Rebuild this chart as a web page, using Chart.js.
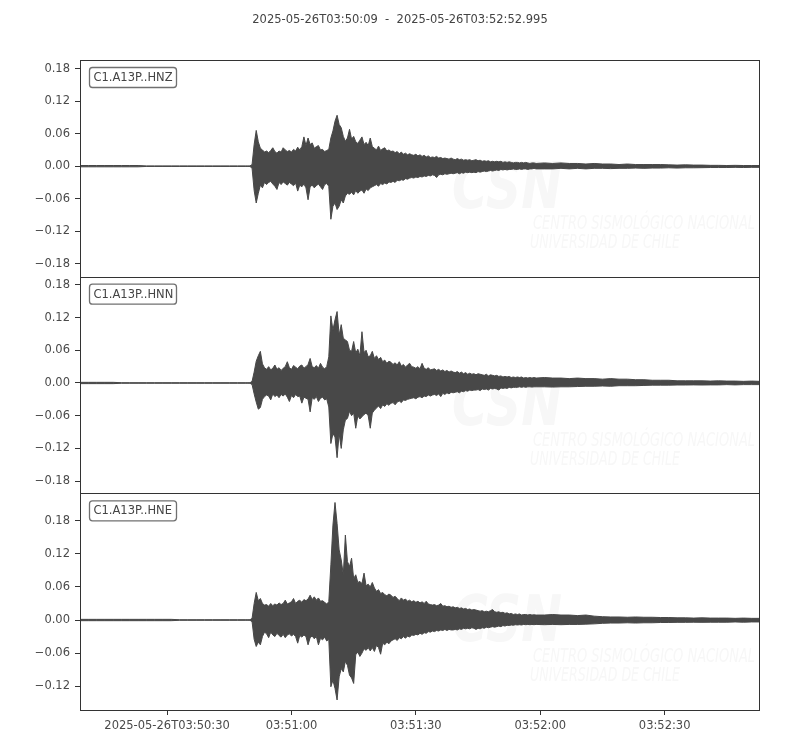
<!DOCTYPE html>
<html><head><meta charset="utf-8">
<script src="https://cdn.jsdelivr.net/npm/chart.js@4.4.1/dist/chart.umd.min.js"></script>
<style>html,body{margin:0;padding:0;background:#fff}canvas{display:block}</style>
</head><body>
<canvas id="c" width="800" height="750"></canvas>
<script>
// ---------- text / ticks ----------
const titleText = '2025-05-26T03:50:09  -  2025-05-26T03:52:52.995';
const channels = ['C1.A13P..HNZ', 'C1.A13P..HNN', 'C1.A13P..HNE'];
const xTickSeconds = [21, 51, 81, 111, 141];          // seconds after 03:50:09
const xTickLabels = ['2025-05-26T03:50:30', '03:51:00', '03:51:30', '03:52:00', '03:52:30'];
const yTicksZN = [-0.18, -0.12, -0.06, 0, 0.06, 0.12, 0.18];
const yTicksE = [-0.12, -0.06, 0, 0.06, 0.12, 0.18];
const yLimits = [[-0.204, 0.196], [-0.2024, 0.195], [-0.1631, 0.2296]];
const timeSpan = 163.995;
// sample grid: [start, end, step] seconds
const sampleSegments = [[0, 40, 2], [40.5, 110, 0.5], [112, 164, 2]];

// ---------- envelope values (max / min per sample) ----------
const hnzUpper = [
  0.0012,0.0012,0.0012,0.0012,0.0012,0.0012,0.0012,0.0012,0.0005,0.0005,0.0005,0.0005,0.0005,0.0005,0.0005,0.0005,0.0005,0.0005,0.0005,0.0005,0.0005,
  0.0005,0.0005,0.003,0.04,0.066,0.045,0.033,0.03,0.026,0.028,
  0.025,0.029,0.034,0.027,0.024,0.028,0.026,0.034,0.03,0.027,
  0.029,0.026,0.031,0.028,0.035,0.03,0.036,0.054,0.038,0.052,
  0.04,0.043,0.033,0.036,0.038,0.03,0.031,0.027,0.029,0.031,
  0.052,0.065,0.083,0.094,0.077,0.071,0.055,0.046,0.052,0.068,
  0.05,0.055,0.045,0.042,0.048,0.054,0.04,0.044,0.038,0.052,
  0.036,0.033,0.03,0.037,0.029,0.032,0.034,0.028,0.03,0.027,
  0.028,0.025,0.027,0.023,0.026,0.022,0.024,0.021,0.023,0.021,
  0.02,0.022,0.019,0.021,0.018,0.02,0.017,0.019,0.016,0.017,
  0.016,0.018,0.015,0.016,0.014,0.015,0.014,0.013,0.015,0.013,
  0.012,0.014,0.012,0.013,0.011,0.012,0.011,0.012,0.01,0.011,
  0.012,0.01,0.011,0.009,0.01,0.009,0.01,0.008,0.009,0.008,
  0.009,0.008,0.009,0.007,0.008,0.007,0.008,0.007,0.006,0.007,
  0.007,0.006,0.007,0.006,0.007,0.006,0.005,0.006,0.006,0.005,
  0.006,0.005,0.006,0.005,0.005,0.004,0.005,0.004,0.004,0.003,0.004,0.003,0.003,0.003,0.003,0.0025,0.002,0.0025,0.002,0.002,0.0015,0.0015,0.0012,0.0015,0.0012,0.0012,0.0012
];
const hnzLower = [
  -0.0012,-0.0012,-0.0012,-0.0012,-0.0012,-0.0012,-0.0012,-0.0012,-0.0005,-0.0005,-0.0005,-0.0005,-0.0005,-0.0005,-0.0005,-0.0005,-0.0005,-0.0005,-0.0005,-0.0005,-0.0005,
  -0.0005,-0.0005,-0.004,-0.045,-0.068,-0.05,-0.035,-0.04,-0.03,-0.034,
  -0.03,-0.028,-0.033,-0.037,-0.043,-0.03,-0.034,-0.029,-0.032,-0.035,
  -0.03,-0.033,-0.036,-0.031,-0.046,-0.035,-0.038,-0.033,-0.04,-0.062,
  -0.038,-0.035,-0.04,-0.036,-0.033,-0.038,-0.043,-0.034,-0.032,-0.037,
  -0.098,-0.074,-0.068,-0.08,-0.074,-0.062,-0.068,-0.055,-0.05,-0.052,
  -0.048,-0.053,-0.045,-0.05,-0.046,-0.044,-0.05,-0.042,-0.045,-0.04,
  -0.038,-0.036,-0.034,-0.037,-0.032,-0.034,-0.031,-0.033,-0.029,-0.03,
  -0.028,-0.03,-0.026,-0.027,-0.025,-0.026,-0.023,-0.024,-0.022,-0.021,
  -0.022,-0.02,-0.021,-0.019,-0.02,-0.018,-0.019,-0.017,-0.018,-0.016,
  -0.017,-0.021,-0.016,-0.015,-0.016,-0.014,-0.015,-0.014,-0.013,-0.014,
  -0.013,-0.012,-0.014,-0.012,-0.013,-0.011,-0.012,-0.011,-0.012,-0.011,
  -0.012,-0.01,-0.011,-0.01,-0.009,-0.01,-0.009,-0.008,-0.009,-0.008,
  -0.007,-0.008,-0.006,-0.007,-0.006,-0.007,-0.006,-0.006,-0.005,-0.006,
  -0.006,-0.005,-0.006,-0.005,-0.005,-0.006,-0.005,-0.005,-0.004,-0.005,
  -0.005,-0.005,-0.004,-0.005,-0.004,-0.005,-0.004,-0.004,-0.0045,-0.004,-0.004,-0.0035,-0.004,-0.0035,-0.0035,-0.003,-0.0035,-0.003,-0.003,-0.0028,-0.0025,-0.0025,-0.0025,-0.0022,-0.0025,-0.0022,-0.0022
];
const hnnUpper = [
  0.0012,0.0012,0.0012,0.0012,0.0012,0.0005,0.0005,0.0005,0.0005,0.0005,0.0005,0.0005,0.0005,0.0005,0.0005,0.0005,0.0005,0.0005,0.0005,0.0005,0.0005,
  0.0005,0.0005,0.003,0.02,0.04,0.05,0.058,0.035,0.028,0.025,
  0.03,0.024,0.027,0.033,0.025,0.028,0.023,0.027,0.03,0.039,
  0.028,0.025,0.032,0.029,0.026,0.031,0.033,0.027,0.03,0.034,
  0.045,0.03,0.028,0.032,0.027,0.036,0.029,0.026,0.03,0.048,
  0.123,0.097,0.116,0.131,0.088,0.107,0.082,0.079,0.076,0.06,
  0.058,0.076,0.055,0.062,0.05,0.094,0.056,0.06,0.048,0.05,
  0.058,0.045,0.05,0.043,0.047,0.039,0.042,0.036,0.04,0.038,
  0.034,0.037,0.033,0.039,0.031,0.034,0.029,0.033,0.036,0.03,
  0.029,0.027,0.03,0.026,0.036,0.027,0.025,0.028,0.024,0.025,
  0.026,0.023,0.025,0.022,0.024,0.021,0.023,0.02,0.022,0.02,
  0.019,0.021,0.018,0.02,0.017,0.019,0.016,0.018,0.016,0.017,
  0.015,0.017,0.016,0.015,0.014,0.016,0.013,0.015,0.014,0.013,
  0.014,0.012,0.013,0.011,0.012,0.011,0.012,0.01,0.011,0.01,
  0.011,0.01,0.011,0.009,0.01,0.009,0.01,0.009,0.01,0.009,
  0.01,0.009,0.009,0.008,0.009,0.008,0.008,0.007,0.008,0.007,0.007,0.006,0.006,0.005,0.005,0.005,0.004,0.004,0.004,0.004,0.0035,0.004,0.0035,0.0035,0.003,0.0035,0.003
];
const hnnLower = [
  -0.0012,-0.0012,-0.0012,-0.0012,-0.0012,-0.0005,-0.0005,-0.0005,-0.0005,-0.0005,-0.0005,-0.0005,-0.0005,-0.0005,-0.0005,-0.0005,-0.0005,-0.0005,-0.0005,-0.0005,-0.0005,
  -0.0005,-0.0005,-0.003,-0.02,-0.035,-0.048,-0.045,-0.03,-0.025,-0.022,
  -0.024,-0.031,-0.02,-0.025,-0.022,-0.027,-0.021,-0.024,-0.02,-0.026,
  -0.034,-0.023,-0.027,-0.021,-0.025,-0.024,-0.037,-0.026,-0.028,-0.03,
  -0.053,-0.027,-0.03,-0.025,-0.034,-0.028,-0.026,-0.031,-0.029,-0.044,
  -0.111,-0.093,-0.099,-0.137,-0.093,-0.12,-0.086,-0.068,-0.065,-0.052,
  -0.06,-0.055,-0.083,-0.06,-0.066,-0.062,-0.058,-0.055,-0.06,-0.083,
  -0.055,-0.05,-0.046,-0.042,-0.047,-0.04,-0.043,-0.038,-0.041,-0.037,
  -0.036,-0.04,-0.035,-0.033,-0.036,-0.031,-0.032,-0.03,-0.029,-0.028,
  -0.027,-0.029,-0.026,-0.025,-0.027,-0.024,-0.025,-0.022,-0.024,-0.022,
  -0.021,-0.023,-0.02,-0.025,-0.019,-0.021,-0.018,-0.02,-0.017,-0.018,
  -0.017,-0.016,-0.018,-0.015,-0.016,-0.014,-0.015,-0.013,-0.014,-0.013,
  -0.013,-0.012,-0.014,-0.011,-0.012,-0.011,-0.013,-0.01,-0.011,-0.01,
  -0.011,-0.013,-0.009,-0.01,-0.009,-0.01,-0.008,-0.009,-0.008,-0.008,
  -0.008,-0.007,-0.008,-0.007,-0.008,-0.007,-0.007,-0.0075,-0.007,-0.007,
  -0.007,-0.0075,-0.007,-0.007,-0.0065,-0.006,-0.006,-0.0055,-0.006,-0.005,-0.005,-0.005,-0.0045,-0.004,-0.004,-0.004,-0.0037,-0.0037,-0.0035,-0.0037,-0.0035,-0.0035,-0.003,-0.0035,-0.003,-0.003,-0.003
];
const hneUpper = [
  0.0012,0.0012,0.0012,0.0012,0.0012,0.0012,0.0012,0.0012,0.0012,0.0012,0.0012,0.0012,0.0005,0.0005,0.0005,0.0005,0.0005,0.0005,0.0005,0.0005,0.0005,
  0.0005,0.0005,0.003,0.03,0.05,0.035,0.039,0.03,0.027,0.028,
  0.025,0.03,0.026,0.029,0.027,0.031,0.028,0.03,0.036,0.029,
  0.031,0.033,0.039,0.03,0.034,0.036,0.032,0.037,0.035,0.038,
  0.045,0.037,0.042,0.036,0.04,0.034,0.035,0.032,0.029,0.033,
  0.1,0.172,0.213,0.175,0.127,0.109,0.082,0.154,0.106,0.097,
  0.112,0.075,0.082,0.068,0.07,0.066,0.085,0.062,0.065,0.06,
  0.068,0.058,0.052,0.055,0.048,0.05,0.046,0.044,0.047,0.045,
  0.041,0.043,0.039,0.035,0.04,0.036,0.038,0.034,0.036,0.033,
  0.035,0.032,0.034,0.031,0.033,0.03,0.034,0.029,0.028,0.027,
  0.028,0.026,0.027,0.03,0.025,0.026,0.024,0.025,0.023,0.024,
  0.022,0.023,0.021,0.022,0.02,0.021,0.019,0.02,0.018,0.019,
  0.018,0.017,0.016,0.017,0.015,0.016,0.015,0.017,0.019,0.015,
  0.014,0.015,0.013,0.014,0.012,0.013,0.011,0.012,0.01,0.011,
  0.01,0.011,0.009,0.01,0.01,0.009,0.01,0.009,0.0095,0.009,
  0.009,0.01,0.009,0.009,0.008,0.009,0.007,0.006,0.0055,0.0055,0.005,0.0055,0.005,0.005,0.0045,0.0045,0.004,0.004,0.0035,0.004,0.0035,0.0035,0.0035,0.003,0.0035,0.003,0.003
];
const hneLower = [
  -0.0012,-0.0012,-0.0012,-0.0012,-0.0012,-0.0012,-0.0012,-0.0012,-0.0012,-0.0012,-0.0012,-0.0012,-0.0005,-0.0005,-0.0005,-0.0005,-0.0005,-0.0005,-0.0005,-0.0005,-0.0005,
  -0.0005,-0.0005,-0.003,-0.035,-0.048,-0.04,-0.045,-0.03,-0.022,-0.025,
  -0.032,-0.022,-0.027,-0.03,-0.024,-0.028,-0.031,-0.026,-0.032,-0.027,
  -0.025,-0.029,-0.026,-0.03,-0.042,-0.028,-0.031,-0.027,-0.03,-0.045,
  -0.032,-0.029,-0.034,-0.03,-0.045,-0.033,-0.036,-0.031,-0.038,-0.035,
  -0.121,-0.109,-0.124,-0.145,-0.103,-0.088,-0.094,-0.075,-0.082,-0.1,
  -0.105,-0.115,-0.063,-0.058,-0.066,-0.06,-0.052,-0.055,-0.05,-0.056,
  -0.05,-0.057,-0.046,-0.05,-0.062,-0.042,-0.045,-0.04,-0.043,-0.038,
  -0.036,-0.034,-0.037,-0.032,-0.034,-0.03,-0.033,-0.029,-0.031,-0.027,
  -0.028,-0.026,-0.027,-0.024,-0.026,-0.023,-0.024,-0.021,-0.022,-0.02,
  -0.021,-0.019,-0.02,-0.018,-0.019,-0.017,-0.019,-0.017,-0.018,-0.018,
  -0.017,-0.018,-0.016,-0.017,-0.015,-0.016,-0.015,-0.016,-0.014,-0.015,
  -0.017,-0.015,-0.016,-0.014,-0.015,-0.013,-0.014,-0.013,-0.012,-0.013,
  -0.012,-0.011,-0.012,-0.01,-0.011,-0.0095,-0.01,-0.009,-0.0095,-0.0085,
  -0.009,-0.0085,-0.009,-0.008,-0.0085,-0.008,-0.0085,-0.008,-0.0085,-0.008,
  -0.0085,-0.008,-0.0085,-0.008,-0.008,-0.0075,-0.007,-0.006,-0.0055,-0.0055,-0.005,-0.0055,-0.005,-0.005,-0.0045,-0.0045,-0.0042,-0.0042,-0.004,-0.0042,-0.004,-0.004,-0.004,-0.0035,-0.004,-0.0035,-0.0035
];

// ---------- build chart ----------
const sampleTimes = [];
sampleSegments.forEach(([a, b, s]) => { for (let t = a; t <= b + 1e-9; t += s) sampleTimes.push(+t.toFixed(3)); });

const traceColor = '#484848';
const fontFam = '"DejaVu Sans", "Liberation Sans", sans-serif';
const fontSize = 11.5;
const yIds = ['yZ', 'yN', 'yE'];
const envelopes = [[hnzUpper, hnzLower], [hnnUpper, hnnLower], [hneUpper, hneLower]];
const lengthProblems = [];
const datasets = [];
envelopes.forEach(([up, lo], i) => {
  if (up.length !== sampleTimes.length) lengthProblems.push(channels[i] + ' up ' + up.length);
  if (lo.length !== sampleTimes.length) lengthProblems.push(channels[i] + ' lo ' + lo.length);
  datasets.push({ data: up.map((v, k) => ({ x: sampleTimes[k], y: v })), yAxisID: yIds[i],
    borderColor: traceColor, backgroundColor: traceColor, borderWidth: 1, fill: '+1', pointRadius: 0 });
  datasets.push({ data: lo.map((v, k) => ({ x: sampleTimes[k], y: v })), yAxisID: yIds[i],
    borderColor: traceColor, backgroundColor: traceColor, borderWidth: 1, fill: false, pointRadius: 0 });
});

function yAxis(i, ticks, weight) {
  return {
    type: 'linear', position: 'left', stack: 'traces', stackWeight: 1, weight: weight,
    min: yLimits[i][0], max: yLimits[i][1],
    afterBuildTicks: s => { s.ticks = ticks.map(v => ({ value: v })); },
    afterFit: s => { s.width = 80; },
    grid: { drawOnChartArea: false, drawTicks: true, tickLength: 5, color: '#333', lineWidth: 1 },
    border: { display: false },
    ticks: { autoSkip: false, padding: 5, color: '#4a4a4a', font: { family: fontFam, size: fontSize },
      callback: v => (Math.abs(v) < 1e-9 ? '0.00' : v.toFixed(2).replace('-', '\u2212')) }
  };
}

const decor = {
  id: 'decor',
  beforeDatasetsDraw(chart) {
    const ctx = chart.ctx;
    ctx.save();
    ctx.fillStyle = '#f7f7f7';
    yIds.forEach(id => {
      const s = chart.scales[id];
      const top = s.top;
      ctx.font = 'italic bold 64px "DejaVu Sans", sans-serif';
      ctx.textBaseline = 'alphabetic'; ctx.textAlign = 'left';
      ctx.fillText('CSN', 452, top + 148, 110);
      ctx.font = 'italic 19px "DejaVu Sans Condensed", "DejaVu Sans", sans-serif';
      ctx.textBaseline = 'middle';
      ctx.fillText('CENTRO SISMOL\u00D3GICO NACIONAL', 533, top + 164, 222);
      ctx.fillText('UNIVERSIDAD DE CHILE', 530, top + 183, 150);
    });
    ctx.restore();
  },
  afterDraw(chart) {
    const ctx = chart.ctx, a = chart.chartArea;
    ctx.save();
    // title centred on the figure
    ctx.fillStyle = '#444';
    ctx.font = fontSize + 'px ' + fontFam;
    ctx.textAlign = 'center'; ctx.textBaseline = 'middle';
    ctx.fillText(titleText, 400, 20);
    yIds.forEach((id, i) => {
      const s = chart.scales[id];
      const l = Math.round(a.left) + 0.5, r = Math.round(a.right) - 0.5;
      const t = Math.round(s.top) + 0.5, b = Math.round(s.bottom) - 0.5;
      ctx.strokeStyle = '#333'; ctx.lineWidth = 1;
      ctx.strokeRect(l, t, r - l, b - t + 1);
      // channel label box
      const bx = a.left + 9.5, by = s.top + 7.5, bw = 87, bh = 20;
      ctx.beginPath();
      if (ctx.roundRect) ctx.roundRect(bx, by, bw, bh, 3); else ctx.rect(bx, by, bw, bh);
      ctx.fillStyle = '#fff'; ctx.fill();
      ctx.strokeStyle = '#707070'; ctx.lineWidth = 1.3; ctx.stroke();
      ctx.fillStyle = '#444';
      ctx.font = fontSize + 'px ' + fontFam;
      ctx.textBaseline = 'middle'; ctx.textAlign = 'left';
      ctx.fillText(channels[i], bx + 4, by + bh / 2 + 0.5);
    });
    if (lengthProblems.length) { ctx.fillStyle = 'red'; ctx.font = '12px sans-serif'; ctx.fillText(lengthProblems.join(' | '), 100, 740); }
    ctx.restore();
  }
};

new Chart(document.getElementById('c'), {
  type: 'line',
  data: { datasets },
  plugins: [decor],
  options: {
    responsive: false, animation: false, devicePixelRatio: 1, normalized: true,
    layout: { padding: { left: 0, right: 40, top: 60, bottom: 0 } },
    plugins: {
      legend: { display: false }, tooltip: { enabled: false }, title: { display: false },
      filler: { propagate: false }
    },
    elements: { point: { radius: 0 }, line: { tension: 0, borderWidth: 1 } },
    scales: {
      x: {
        type: 'linear', position: 'bottom', min: 0, max: timeSpan,
        afterBuildTicks: s => { s.ticks = xTickSeconds.map(v => ({ value: v })); },
        afterFit: s => { s.height = 40; },
        grid: { drawOnChartArea: false, drawTicks: true, tickLength: 5, color: '#333' },
        border: { display: false },
        ticks: { autoSkip: false, maxRotation: 0, padding: 4, color: '#4a4a4a',
          font: { family: fontFam, size: fontSize }, callback: (v, idx) => xTickLabels[idx] }
      },
      yZ: yAxis(0, yTicksZN, 3),
      yN: yAxis(1, yTicksZN, 2),
      yE: yAxis(2, yTicksE, 1)
    }
  }
});
</script>
</body></html>
